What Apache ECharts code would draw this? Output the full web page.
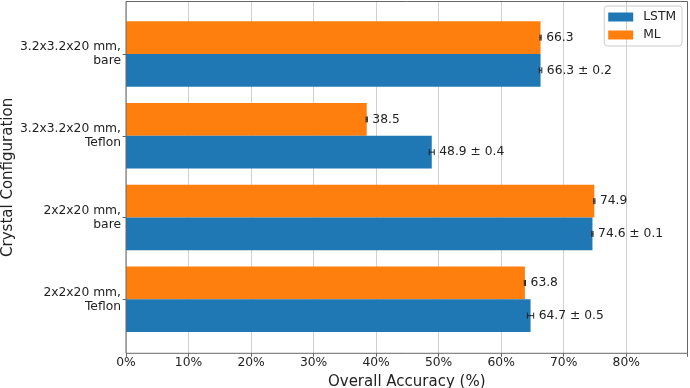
<!DOCTYPE html>
<html>
<head>
<meta charset="utf-8">
<script src="https://cdn.jsdelivr.net/npm/echarts@6/dist/echarts.min.js"></script>
<style>
  html, body { margin: 0; padding: 0; background: #fff; }
  #chart { width: 690px; height: 388px; }
</style>
</head>
<body>
<div id="chart"></div>
<script>
// categories from bottom to top
const categories = ['2x2x20 mm,\nTeflon', '2x2x20 mm,\nbare', '3.2x3.2x20 mm,\nTeflon', '3.2x3.2x20 mm,\nbare']
const lstmAcc = [64.7, 74.6, 48.9, 66.3]
const lstmErr = [0.5, 0.1, 0.4, 0.2]
const mlAcc = [63.8, 74.9, 38.5, 66.3]
const mlErr = [0.1, 0.1, 0.1, 0.1]
const xTicks = [0, 10, 20, 30, 40, 50, 60, 70, 80]

const FONT = 'DejaVu Sans'
const chart = echarts.init(document.getElementById('chart'))

// error bar + value text, drawn next to each bar
function errRenderer(vals, errs, side, withErr) {
  return function (params, api) {
    const i = params.dataIndex
    const band = api.size([0, 1])[1]
    const c = api.coord([vals[i], i])
    const y = c[1] + side * band * 0.2
    const x0 = api.coord([vals[i] - errs[i], i])[0]
    const x1 = api.coord([vals[i] + errs[i], i])[0]
    const st = { stroke: '#222', lineWidth: 1 }
    const txt = withErr ? vals[i].toFixed(1) + ' ± ' + errs[i].toFixed(1) : vals[i].toFixed(1)
    return {
      type: 'group',
      children: [
        { type: 'line', shape: { x1: x0, y1: y, x2: x1, y2: y }, style: st },
        { type: 'line', shape: { x1: x0, y1: y - 3, x2: x0, y2: y + 3 }, style: st },
        { type: 'line', shape: { x1: x1, y1: y - 3, x2: x1, y2: y + 3 }, style: st },
        {
          type: 'text',
          style: {
            x: x1 + 5, y: y, text: txt, fill: '#222',
            fontSize: 12.3, fontFamily: FONT,
            align: 'left', verticalAlign: 'middle'
          }
        }
      ]
    }
  }
}

const option = {
  animation: false,
  textStyle: { fontFamily: FONT },
  legend: {
    data: ['LSTM', 'ML'],
    orient: 'vertical',
    right: 8,
    top: 6,
    itemWidth: 25,
    itemHeight: 9,
    itemGap: 6,
    icon: 'rect',
    padding: [5, 6, 5, 4],
    borderColor: '#ccc',
    borderWidth: 1,
    borderRadius: 3,
    textStyle: { fontSize: 12.3, color: '#222', fontFamily: FONT, padding: [0, 0, 0, 5] }
  },
  grid: [
    // frame, gridlines and x axis
    { left: 126, right: 2.5, top: 1.5, bottom: 34.7, show: true, borderColor: '#666', borderWidth: 1, z: 5, outerBoundsMode: 'none', containLabel: false },
    // bars
    { left: 126, right: 2.5, top: 13.1, bottom: 47.8, outerBoundsMode: 'none', containLabel: false }
  ],
  xAxis: [
    {
      gridIndex: 0,
      type: 'value',
      min: 0,
      max: 89.8,
      interval: 10,
      name: 'Overall Accuracy (%)',
      nameLocation: 'middle',
      nameGap: 17,
      nameTextStyle: { fontSize: 15, color: '#222', fontFamily: FONT },
      axisLine: { show: false },
      axisTick: { show: true, length: 3.5, lineStyle: { color: '#666' } },
      axisLabel: {
        margin: 4, fontSize: 12.3, color: '#222', fontFamily: FONT,
        formatter: v => xTicks.indexOf(v) >= 0 ? v + '%' : ''
      },
      splitLine: { show: true, lineStyle: { color: '#d0d0d0', width: 1 } }
    },
    { gridIndex: 1, type: 'value', min: 0, max: 89.8, show: false }
  ],
  yAxis: [
    {
      gridIndex: 0,
      type: 'value',
      min: 0,
      max: 1,
      name: 'Crystal Configuration',
      nameLocation: 'middle',
      nameGap: 110,
      nameTextStyle: { fontSize: 15, color: '#222', fontFamily: FONT },
      axisLine: { show: false },
      axisTick: { show: false },
      axisLabel: { show: false },
      splitLine: { show: false }
    },
    {
      gridIndex: 1,
      type: 'category',
      data: categories,
      axisLine: { show: false },
      axisTick: { show: true, alignWithLabel: true, length: 3.5, lineStyle: { color: '#666' } },
      axisLabel: { margin: 5, fontSize: 12.3, lineHeight: 14, color: '#222', fontFamily: FONT, align: 'right' },
      splitLine: { show: false }
    }
  ],
  series: [
    // first bar series sits on top inside each band
    {
      name: 'ML', type: 'bar', xAxisIndex: 1, yAxisIndex: 1,
      data: mlAcc, barGap: '0%', barCategoryGap: '20%',
      itemStyle: { color: '#ff7f0e' }
    },
    {
      name: 'LSTM', type: 'bar', xAxisIndex: 1, yAxisIndex: 1,
      data: lstmAcc, barGap: '0%', barCategoryGap: '20%',
      itemStyle: { color: '#1f77b4' }
    },
    {
      name: 'lstmErr', type: 'custom', xAxisIndex: 1, yAxisIndex: 1, z: 4,
      data: lstmAcc, renderItem: errRenderer(lstmAcc, lstmErr, 1, true)
    },
    {
      name: 'mlErr', type: 'custom', xAxisIndex: 1, yAxisIndex: 1, z: 4,
      data: mlAcc, renderItem: errRenderer(mlAcc, mlErr, -1, false)
    }
  ]
}
chart.setOption(option)
</script>
</body>
</html>
